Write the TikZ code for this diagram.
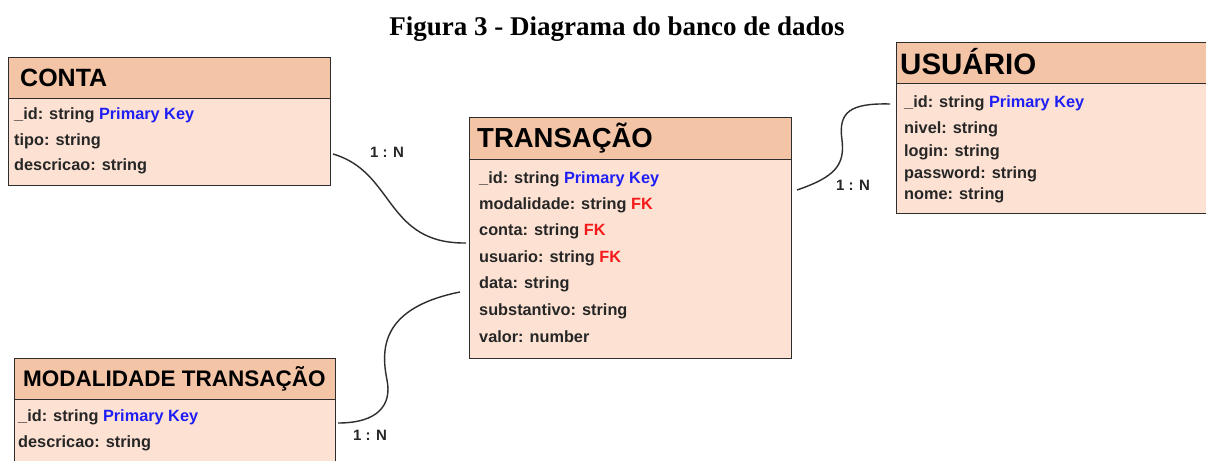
\documentclass[tikz,border=0pt]{standalone}
\usepackage{fontspec}
\setmainfont{Liberation Serif}
\newfontfamily\boxfont{Liberation Sans}
\definecolor{hdr}{RGB}{243,196,166}
\definecolor{bdy}{RGB}{253,226,211}
\definecolor{pk}{RGB}{30,30,245}
\definecolor{fk}{RGB}{245,25,25}
\definecolor{edge}{RGB}{45,45,45}
\tikzset{
  hdrbox/.style={draw=edge, line width=1.4pt, fill=hdr, anchor=north west, inner sep=0pt},
  bdybox/.style={draw=edge, line width=1.4pt, fill=bdy, anchor=north west, inner sep=0pt},
  title/.style={anchor=west, inner sep=0pt, font=\boxfont\bfseries},
  row/.style={anchor=base west, inner sep=0pt, font=\boxfont\bfseries\fontsize{16.3}{18}\selectfont, text=black!85},
  card/.style={inner sep=0pt, font=\boxfont\bfseries\fontsize{15}{16}\selectfont, text=black!85},
  rel/.style={draw=edge, line width=1.4pt}
}
\newcommand{\PK}{\textcolor{pk}{Primary Key}}
\newcommand{\FK}{\textcolor{fk}{FK}}
\begin{document}
\begin{tikzpicture}[x=1pt,y=-1pt]
\useasboundingbox (0,0) rectangle (1206,460);
\fill[white] (0,0) rectangle (1206,460);
% caption
\node[inner sep=0pt, font=\bfseries\fontsize{27}{30}\selectfont] (cap) at (617,29) {Figura 3 - Diagrama do banco de dados};

% CONTA
\node[hdrbox, minimum width=322pt, minimum height=41pt] (contaH) at (8,57) {};
\node[bdybox, minimum width=322pt, minimum height=87pt] (contaB) at (8,98) {};
\node[title, font=\boxfont\bfseries\fontsize{25}{28}\selectfont] (contaT) at (20,78) {CONTA};
\node[row] (c1) at (14,119) {\_id: string \PK};
\node[row] (c2) at (14,145) {tipo: string};
\node[row] (c3) at (14,170) {descricao: string};

% TRANSACAO
\node[hdrbox, minimum width=322pt, minimum height=42pt] (trH) at (469,117) {};
\node[bdybox, minimum width=322pt, minimum height=199pt] (trB) at (469,159) {};
\node[title, font=\boxfont\bfseries\fontsize{27.5}{30}\selectfont] (trT) at (477,138) {TRANSAÇÃO};
\node[row] (t1) at (479,183) {\_id: string \PK};
\node[row] (t2) at (479,209) {modalidade: string \FK};
\node[row] (t3) at (479,235) {conta: string \FK};
\node[row] (t4) at (479,262) {usuario: string \FK};
\node[row] (t5) at (479,288) {data: string};
\node[row] (t6) at (479,315) {substantivo: string};
\node[row] (t7) at (479,342) {valor: number};

% USUARIO
\node[hdrbox, minimum width=310pt, minimum height=41pt] (usH) at (896,42) {};
\node[bdybox, minimum width=310pt, minimum height=130pt] (usB) at (896,83) {};
\node[title, font=\boxfont\bfseries\fontsize{29.5}{32}\selectfont] (usT) at (900,62) {USUÁRIO};
\node[row] (u1) at (904,107) {\_id: string \PK};
\node[row] (u2) at (904,133) {nivel: string};
\node[row] (u3) at (904,156) {login: string};
\node[row] (u4) at (904,178) {password: string};
\node[row] (u5) at (904,199) {nome: string};

% MODALIDADE TRANSACAO
\node[hdrbox, minimum width=321pt, minimum height=41pt] (moH) at (14,358) {};
\node[bdybox, minimum width=321pt, minimum height=80pt] (moB) at (14,399) {};
\node[title, font=\boxfont\bfseries\fontsize{22.5}{25}\selectfont] (moT) at (23,379) {MODALIDADE TRANSAÇÃO};
\node[row] (m1) at (18,421) {\_id: string \PK};
\node[row] (m2) at (18,447) {descricao: string};

% connector end points
\coordinate (a1) at (333,154);
\coordinate (a2) at (466,243);
\coordinate (b1) at (797,190);
\coordinate (b2) at (890,104);
\coordinate (d1) at (338,423);
\coordinate (d2) at (460,292);

\draw[rel] (a1) .. controls (395,172) and (385,244) .. (a2);
\draw[rel] (b1) .. controls (835,177) and (845,165) .. (842,140)
               .. controls (838,112) and (850,103) .. (b2);
\draw[rel] (d1) .. controls (378,423) and (392,405) .. (387,380)
               .. controls (381,350) and (380,308) .. (d2);

\node[card] (l1) at (387,152) {1 : N};
\node[card] (l2) at (853,185) {1 : N};
\node[card] (l3) at (370,435) {1 : N};
\end{tikzpicture}
\end{document}
